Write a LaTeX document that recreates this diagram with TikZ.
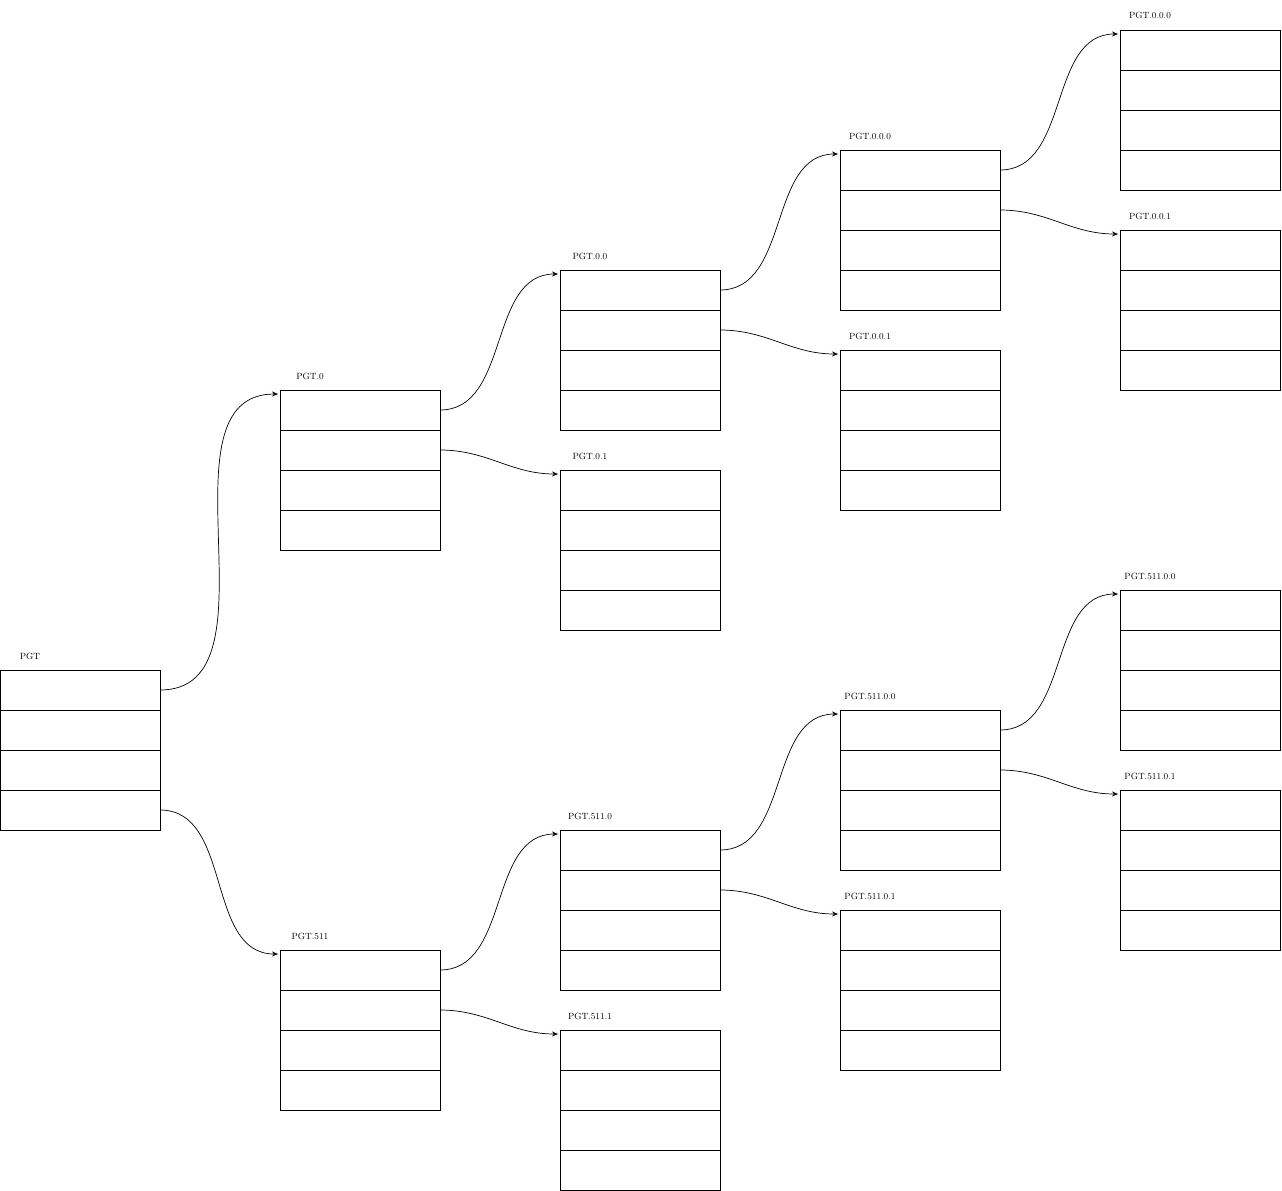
\documentclass[tikz,border=0pt]{standalone}
\usetikzlibrary{arrows.meta}
\begin{document}
\begin{tikzpicture}[x=1pt,y=-1pt,
  tbl/.style={draw,line width=0.7pt,minimum width=160pt,minimum height=160pt,inner sep=0pt,anchor=north west},
  lbl/.style={font=\fontsize{9}{10}\selectfont,anchor=base},
  conn/.style={line width=0.7pt,-{Stealth[length=6pt,width=5pt]}}]
\useasboundingbox (0,0) rectangle (1282,1191);
\foreach \n/\x/\y/\t in {a/0/670/PGT, b/280/390/PGT.0, c/280/950/PGT.511,
  d/560/270/PGT.0.0, e/560/470/PGT.0.1, f/560/830/PGT.511.0, g/560/1030/PGT.511.1,
  h/840/150/PGT.0.0.0, i/840/350/PGT.0.0.1, j/840/710/PGT.511.0.0, k/840/910/PGT.511.0.1,
  l/1120/30/PGT.0.0.0, m/1120/230/PGT.0.0.1, n/1120/590/PGT.511.0.0, o/1120/790/PGT.511.0.1}{
  \node[tbl] (\n) at (\x,\y) {};
  \foreach \r in {40,80,120} \draw[line width=0.7pt] (\n.north west)++(0,\r) -- ++(160,0);
  \node[lbl] (\n-l) at (\x+30,\y-11) {\t};
  \coordinate (\n-in) at (\x-2,\y+4);
  \coordinate (\n-r1) at (\x+160,\y+20);
  \coordinate (\n-r2) at (\x+160,\y+60);
  \coordinate (\n-r4) at (\x+160,\y+140);
}
\draw[conn] (a-r1) to[out=0,in=180] (b-in);
\draw[conn] (a-r4) to[out=0,in=180] (c-in);
\draw[conn] (b-r1) to[out=0,in=180] (d-in);
\draw[conn] (b-r2) to[out=0,in=180] (e-in);
\draw[conn] (c-r1) to[out=0,in=180] (f-in);
\draw[conn] (c-r2) to[out=0,in=180] (g-in);
\draw[conn] (d-r1) to[out=0,in=180] (h-in);
\draw[conn] (d-r2) to[out=0,in=180] (i-in);
\draw[conn] (f-r1) to[out=0,in=180] (j-in);
\draw[conn] (f-r2) to[out=0,in=180] (k-in);
\draw[conn] (h-r1) to[out=0,in=180] (l-in);
\draw[conn] (h-r2) to[out=0,in=180] (m-in);
\draw[conn] (j-r1) to[out=0,in=180] (n-in);
\draw[conn] (j-r2) to[out=0,in=180] (o-in);
\end{tikzpicture}
\end{document}
